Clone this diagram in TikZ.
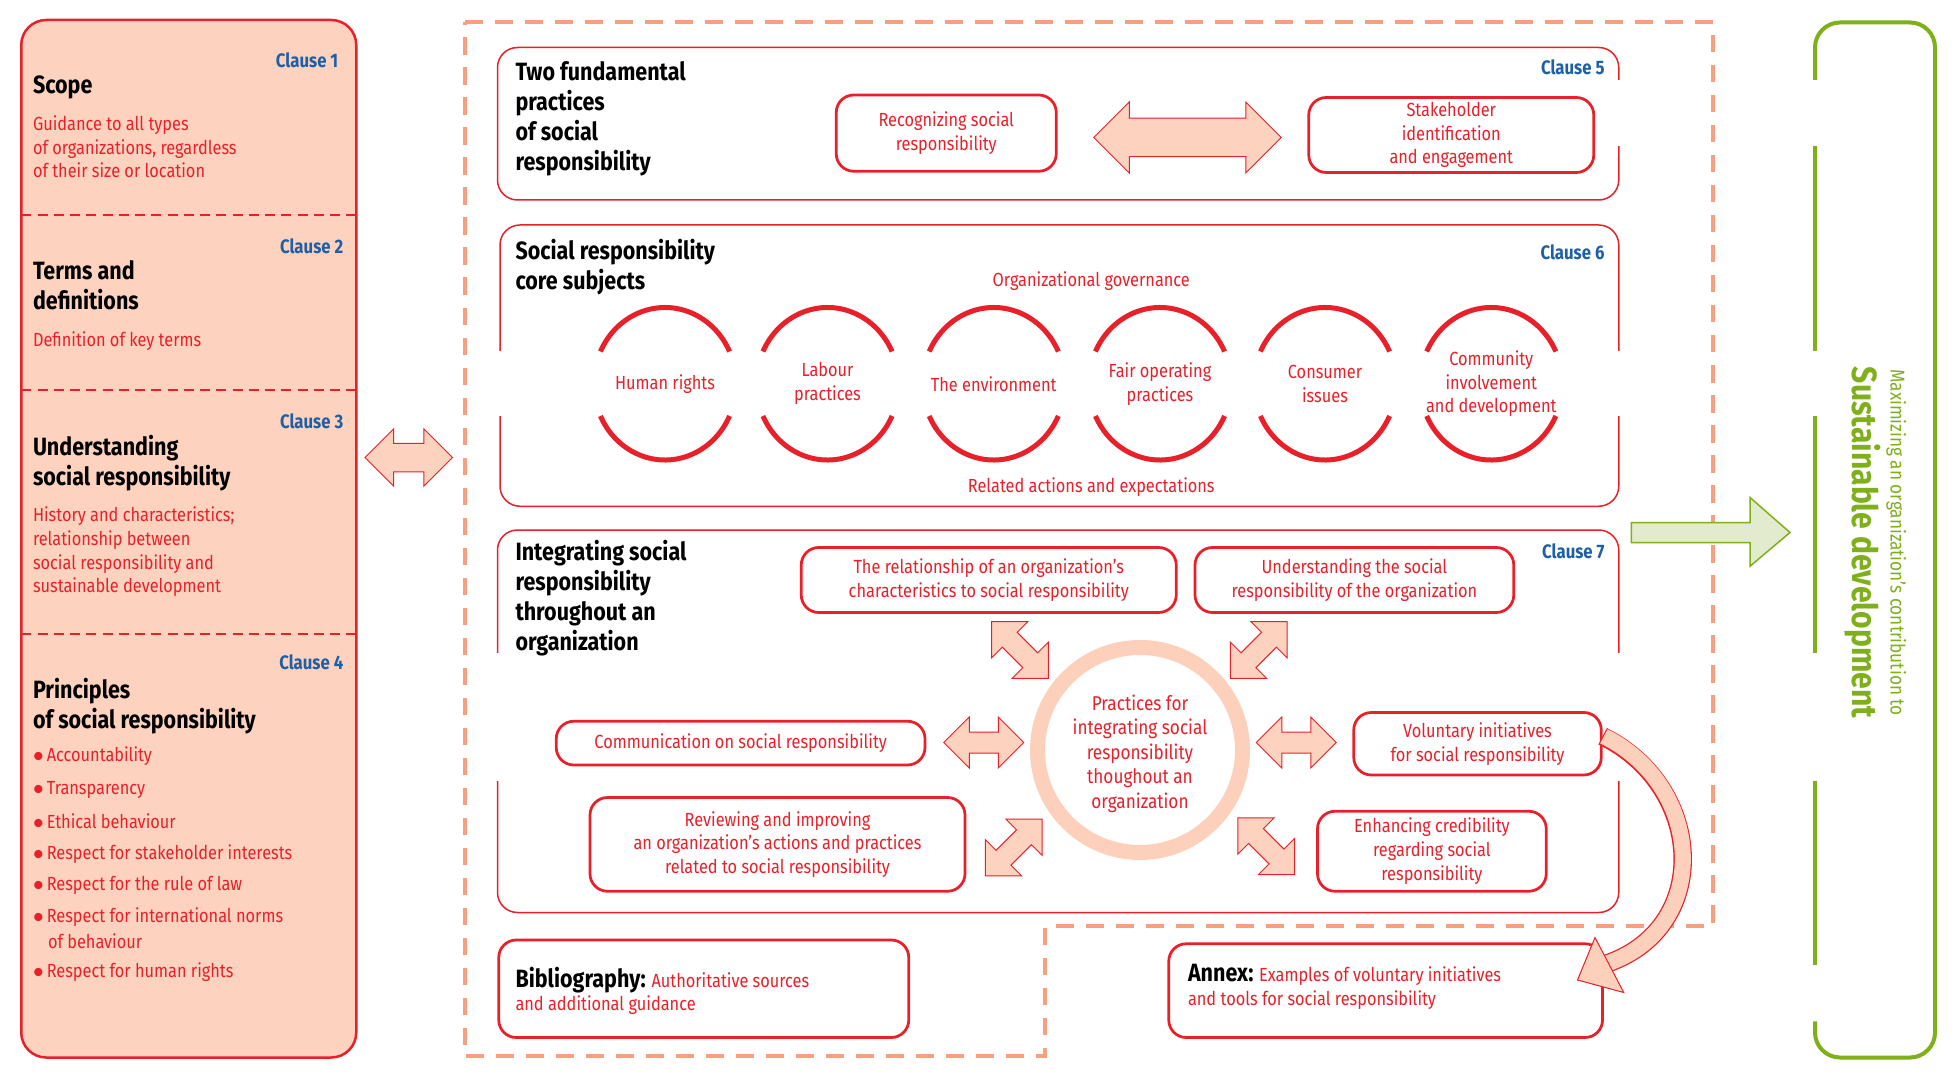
\documentclass[tikz,border=0pt]{standalone}
\usepackage{fontspec}
\setmainfont{Fira Sans}[FakeStretch=0.86]
\usetikzlibrary{shapes.arrows}
\definecolor{cred}{HTML}{E8202A}
\definecolor{salm}{HTML}{FDD3BF}
\definecolor{ring}{HTML}{FDD0BC}
\definecolor{dorange}{HTML}{F7A07F}
\definecolor{cblue}{HTML}{1F5FA6}
\definecolor{cgreen}{HTML}{7FAF1B}
\definecolor{gfill}{HTML}{E2EBCD}
\newcommand{\bodyf}{\fontsize{7.6}{9.5}\selectfont}
\newcommand{\headf}{\fontsize{10}{12}\selectfont\bfseries}
\begin{document}
\begin{tikzpicture}[x=0.5pt,y=-0.5pt,
  body/.style={font=\bodyf,text=cred,inner sep=0pt,align=left},
  bodyc/.style={font=\bodyf,text=cred,inner sep=0pt,align=center},
  head/.style={font=\headf,text=black,inner sep=0pt,align=left,anchor=west},
  clause/.style={font=\fontsize{7.8}{9}\selectfont\bfseries,text=cblue,inner sep=0pt,anchor=east},
  sec/.style={draw=cred,line width=0.6pt,rounded corners=8pt},
  rbox/.style={draw=cred,line width=1.1pt,rounded corners=7pt},
  darr/.style={shape=double arrow,draw=cred,line width=0.4pt,fill=salm,inner xsep=0pt,
     double arrow head indent=0pt},
  gap/.style={fill=white,draw=none}]
\useasboundingbox (0,0) rectangle (1568,866);
\fill[white] (0,0) rectangle (1568,866);
% ---------- left panel
\draw[draw=cred,line width=1pt,fill=salm,rounded corners=10pt] (17,16) rectangle (285,846);
\foreach \yy in {172,312,507} \draw[cred,dashed,line width=0.8pt,dash pattern=on 4pt off 2.5pt] (17,\yy) -- (285,\yy);
\node[clause] (c1) at (271,48) {Clause 1};
\node[head] (t1) at (26,70) {Scope};
\node[body,anchor=north west] (b1) at (26,92) {Guidance to all types\\of organizations, regardless\\of their size or location};
\node[clause] (c2) at (275,197) {Clause 2};
\node[head,anchor=north west] (t2) at (26,208) {Terms and\\definitions};
\node[body,anchor=west] (b2) at (26,273) {Definition of key terms};
\node[clause] (c3) at (275,337) {Clause 3};
\node[head,anchor=north west] (t3) at (26,348) {Understanding\\social responsibility};
\node[body,anchor=north west] (b3) at (26,405) {History and characteristics;\\relationship between\\social responsibility and\\sustainable development};
\node[clause] (c4) at (275,530) {Clause 4};
\node[head,anchor=north west] (t4) at (26,542) {Principles\\of social responsibility};
\foreach \t/\yy [count=\i] in {Accountability/605,Transparency/632,Ethical behaviour/657,Respect for stakeholder interests/683,Respect for the rule of law/708,Respect for international norms/734,Respect for human rights/778}{
  \node[body,anchor=west] (p\i) at (26,\yy) {$\bullet$\,\t};}
\node[body,anchor=west] (p6b) at (38,753) {of behaviour};
\node[darr,minimum height=35pt,inner ysep=5.5pt,double arrow head extend=5.75pt] (la) at (327,366) {};
% ---------- dashed outer frame
\draw[dorange,line width=1.6pt,dash pattern=on 7pt off 5pt] (372,18) -- (1370,18) -- (1370,741) -- (836,741) -- (836,845) -- (372,845) -- cycle;
% ---------- clause 5
\draw[sec] (398,38) rectangle (1295,160);
\fill[gap] (1290,64) rectangle (1300,117);
\node[clause] (c5) at (1284,54) {Clause 5};
\node[head,anchor=north west] (t5) at (412,49) {Two fundamental\\practices\\of social\\responsibility};
\node[rbox,minimum width=88pt,minimum height=30.5pt,bodyc] (rec) at (757,106.5) {Recognizing social\\responsibility};
\node[rbox,minimum width=114pt,minimum height=30pt,bodyc] (stk) at (1161,108) {Stakeholder\\identification\\and engagement};
\node[darr,minimum height=75pt,inner ysep=7.5pt,double arrow head extend=6.5pt] (a5) at (950,110) {};
% ---------- clause 6
\draw[sec] (400,180) rectangle (1295,405);
\fill[gap] (395,281) rectangle (405,333);
\fill[gap] (1290,281) rectangle (1300,333);
\node[clause] (c6) at (1284,202) {Clause 6};
\node[head,anchor=north west] (t6) at (412,191) {Social responsibility\\core subjects};
\node[bodyc] (og) at (873,225) {Organizational governance};
\node[bodyc] (ra) at (873,390) {Related actions and expectations};
\foreach \cx/\lab [count=\i] in {532/Human rights,662/Labour\\practices,795/The environment,928/Fair operating\\practices,1060/Consumer\\issues,1193/Community\\involvement\\and development}{
  \draw[cred,line width=2pt] (\cx,307) ++(205:57 and 61) arc[start angle=205,end angle=335,x radius=57,y radius=61];
  \draw[cred,line width=2pt] (\cx,307) ++(25:57 and 61) arc[start angle=25,end angle=155,x radius=57,y radius=61];
  \node[bodyc] (cs\i) at (\cx,307) {\lab};}
% ---------- clause 7
\draw[sec] (398,424) rectangle (1295,730);
\fill[gap] (393,522) rectangle (403,625);
\fill[gap] (1290,522) rectangle (1300,625);
\node[clause] (c7) at (1284,441) {Clause 7};
\node[head,anchor=north west] (t7) at (412,432) {Integrating social\\responsibility\\throughout an\\organization};
\draw[ring,line width=6pt] (912,600) circle[radius=82];
\node[bodyc,font=\fontsize{8}{9.8}\selectfont] (ctr) at (912,603) {Practices for\\integrating social\\responsibility\\thoughout an\\organization};
\node[rbox,minimum width=150pt,minimum height=26pt,bodyc] (rel) at (791,464) {The relationship of an organization’s\\characteristics to social responsibility};
\node[rbox,minimum width=127.5pt,minimum height=26pt,bodyc] (und) at (1083.5,464) {Understanding the social\\responsibility of the organization};
\node[rbox,minimum width=147.5pt,minimum height=17.5pt,bodyc] (com) at (592.5,594.5) {Communication on social responsibility};
\node[rbox,minimum width=99pt,minimum height=25pt,bodyc] (vol) at (1182,595) {Voluntary initiatives\\for social responsibility};
\node[rbox,minimum width=150pt,minimum height=37.5pt,bodyc] (rev) at (622,675.5) {Reviewing and improving\\an organization’s actions and practices\\related to social responsibility};
\node[rbox,minimum width=91.5pt,minimum height=32pt,bodyc] (enh) at (1145.5,681) {Enhancing credibility\\regarding social\\responsibility};
\tikzset{a7/.style={darr,minimum height=32pt,inner ysep=4pt,double arrow head extend=6pt}}
\node[a7] (h1) at (787,594) {};
\node[a7] (h2) at (1037,594) {};
\node[a7,rotate=-45] (d1) at (816,520) {};
\node[a7,rotate=45] (d2) at (1007,520) {};
\node[a7,rotate=45] (d3) at (811,678) {};
\node[a7,rotate=-45] (d4) at (1013,677) {};
% ---------- bibliography and annex
\node[rbox,minimum width=164pt,minimum height=39pt] (bib) at (563,791) {};
\node[inner sep=0pt,anchor=north west,align=left,font=\bodyf] (bibt) at (412,773) {{\headf Bibliography:} \textcolor{cred}{Authoritative sources}\\\textcolor{cred}{and additional guidance}};
\node[rbox,minimum width=173.5pt,minimum height=37.5pt] (anx) at (1108.5,792.5) {};
\node[inner sep=0pt,anchor=north west,align=left,font=\bodyf] (anxt) at (950,771) {{\headf Annex:} \textcolor{cred}{Examples of voluntary initiatives}\\\textcolor{cred}{and tools for social responsibility}};
% curved arrow
\draw[cred,line width=7.4pt] (vol.east) ++(0,-6) .. controls (1365,630) and (1370,745) .. (1282,772);
\draw[ring,line width=6.4pt] (vol.east) ++(1,-6) .. controls (1365,630) and (1370,745) .. (1282,772);
\draw[cred,line width=0.4pt,fill=ring] (1276,750) -- (1299,794) -- (1262,784) -- cycle;
% ---------- right side
\draw[cgreen,line width=0.6pt,fill=gfill] (1305,418) -- (1400,418) -- (1400,398) -- (1432,426) -- (1400,453) -- (1400,434) -- (1305,434) -- cycle;
\draw[cgreen,line width=1.6pt,rounded corners=10pt] (1452,64) -- (1452,18) -- (1548,18) -- (1548,846) -- (1452,846) -- (1452,817);
\foreach \a/\b in {117/281,333/522,625/772} \draw[cgreen,line width=1.6pt] (1452,\a) -- (1452,\b);
\node[rotate=-90,text=cgreen,inner sep=0pt,font=\fontsize{14}{16}\selectfont\bfseries] (sd) at (1490,434) {Sustainable development};
\node[rotate=-90,text=cgreen,inner sep=0pt,font=\fontsize{8}{9}\selectfont] (mx) at (1517,434) {Maximizing an organization’s contribution to};
\end{tikzpicture}
\end{document}
